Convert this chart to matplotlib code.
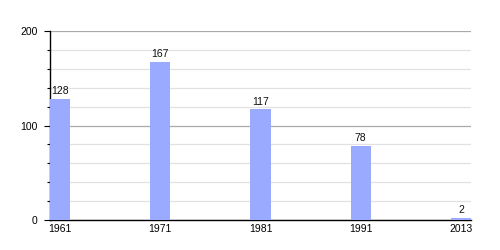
import matplotlib
matplotlib.use("Agg")
import matplotlib.pyplot as plt
from matplotlib.ticker import MultipleLocator

years = ["1961", "1971", "1981", "1991", "2013"]
values = [128, 167, 117, 78, 2]

plt.rcParams['font.family'] = ['Liberation Sans', 'DejaVu Sans']

fig = plt.figure(figsize=(5, 2.5), dpi=100)
ax = fig.add_axes([0.1, 0.12, 0.842, 0.756])

pos = list(range(len(years)))
bw = 0.2
bars = ax.bar(pos, values, width=bw, align='edge', color='#99AAFF', zorder=3)
for p, v in zip(pos, values):
    ax.text(p + bw / 2, v + 3, str(v), ha='center', va='bottom', fontsize=7.5, color='#111111')

ax.set_xlim(0, len(years) - 1 + bw)
ax.set_ylim(0, 200)
ax.set_xticks([p + bw / 2 for p in pos])
ax.set_xticklabels(years)
ax.tick_params(axis='x', length=0, labelsize=7.5, pad=3)

ax.yaxis.set_major_locator(MultipleLocator(100))
ax.yaxis.set_minor_locator(MultipleLocator(20))
ax.tick_params(axis='y', which='major', length=4, width=0.8, labelsize=7.5, pad=5, direction='out')
ax.tick_params(axis='y', which='minor', length=2, width=0.8, direction='out')
ax.grid(axis='y', which='major', color='#AAAAAA', linewidth=0.9, zorder=1)
ax.grid(axis='y', which='minor', color='#E2E2E2', linewidth=0.9, zorder=1)

for s in ['top', 'right']:
    ax.spines[s].set_visible(False)
ax.spines['left'].set_color('black')
ax.spines['bottom'].set_color('black')
ax.spines['left'].set_linewidth(1)
ax.spines['bottom'].set_linewidth(1)

fig.savefig("out.png", dpi=100)
